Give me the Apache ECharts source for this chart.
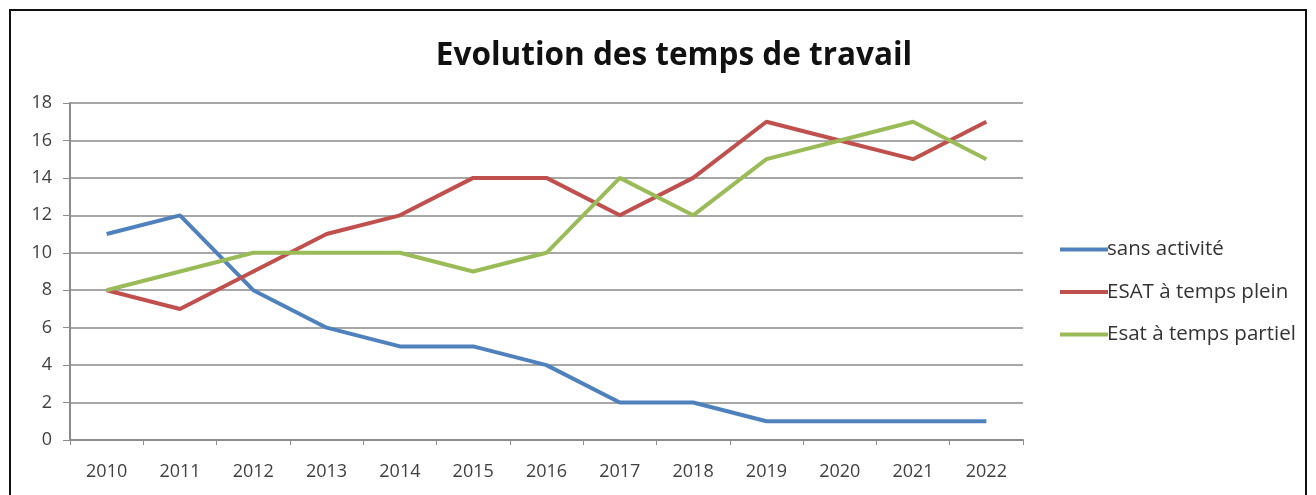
<!DOCTYPE html>
<html>
<head>
<meta charset="utf-8">
<script src="https://cdn.jsdelivr.net/npm/echarts@6/dist/echarts.min.js"></script>
<style>
  html, body { margin: 0; padding: 0; background: #fff; }
  #frame {
    position: absolute; left: 9px; top: 9px; width: 1298px; height: 500px;
    border: 2px solid #111; box-sizing: border-box;
  }
  #chart { position: absolute; left: 0; top: 0; width: 1316px; height: 495px; }
</style>
</head>
<body>
<div id="frame"></div>
<div id="chart"></div>
<script>
// données
var years = ['2010', '2011', '2012', '2013', '2014', '2015', '2016', '2017', '2018', '2019', '2020', '2021', '2022'];
var sansActivite = [11, 12, 8, 6, 5, 5, 4, 2, 2, 1, 1, 1, 1];
var esatPlein = [8, 7, 9, 11, 12, 14, 14, 12, 14, 17, 16, 15, 17];
var esatPartiel = [8, 9, 10, 10, 10, 9, 10, 14, 12, 15, 16, 17, 15];
var yTicks = { min: 0, max: 18, interval: 2 };

var font = "'Open Sans', 'Noto Sans', sans-serif";
var myChart = echarts.init(document.getElementById('chart'));

function serie(name, data, color) {
  return {
    name: name,
    type: 'line',
    data: data,
    symbol: 'none',
    color: color,
    lineStyle: { width: 4, color: color }
  };
}

var options = {
  animation: false,
  title: {
    text: 'Evolution des temps de travail',
    left: 669,
    top: 35,
    textAlign: 'center',
    textStyle: { fontFamily: font, fontSize: 31.5, fontWeight: 'bold', color: '#111' }
  },
  legend: {
    orient: 'vertical',
    left: 1055,
    top: 234,
    itemWidth: 48,
    itemHeight: 4,
    itemGap: 21.5,
    icon: 'rect',
    textStyle: { fontFamily: font, fontSize: 20.5, lineHeight: 20, color: '#333', padding: [0, 0, 0, -6] },
    data: ['sans activité', 'ESAT à temps plein', 'Esat à temps partiel']
  },
  grid: { left: 70, right: 293, top: 103, bottom: 55, containLabel: false },
  xAxis: {
    type: 'category',
    data: years,
    boundaryGap: true,
    axisLine: { lineStyle: { color: '#8c8c8c', width: 2 } },
    axisTick: { show: true, length: 5, lineStyle: { color: '#8c8c8c' } },
    axisLabel: { fontFamily: font, fontSize: 18, color: '#404040', margin: 23 }
  },
  yAxis: {
    type: 'value',
    min: yTicks.min,
    max: yTicks.max,
    interval: yTicks.interval,
    axisLine: { show: true, lineStyle: { color: '#8c8c8c', width: 2 } },
    axisTick: { show: true, inside: false, length: 7, lineStyle: { color: '#8c8c8c' } },
    axisLabel: { fontFamily: font, fontSize: 18, color: '#404040', margin: 18 },
    splitLine: { show: true, lineStyle: { color: '#8a8a8a', width: 1.5 } }
  },
  series: [
    serie('sans activité', sansActivite, '#4F81BD'),
    serie('ESAT à temps plein', esatPlein, '#C0504D'),
    serie('Esat à temps partiel', esatPartiel, '#9BBB59')
  ]
};
myChart.setOption(options);
</script>
</body>
</html>
